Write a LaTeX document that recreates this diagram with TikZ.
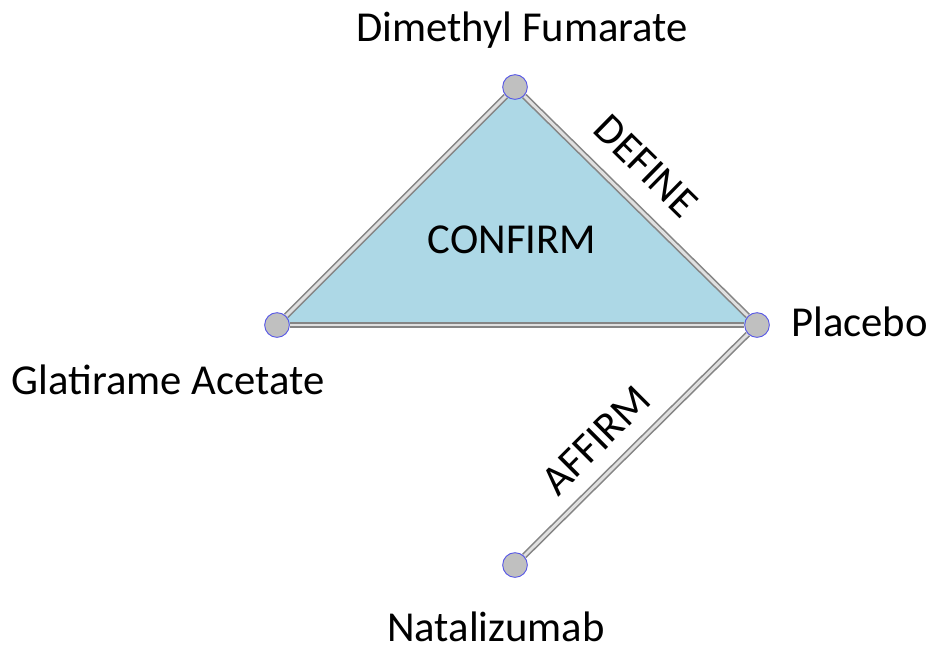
\documentclass[tikz,border=0pt]{standalone}
\usepackage{fontspec}
\setmainfont{Carlito}
\usepackage{xcolor}
\usepackage{tikz}
\usetikzlibrary{arrows.meta, positioning, backgrounds}

\definecolor{edgegray}{HTML}{858585}
\definecolor{edgelight}{HTML}{E0E0E0}
\definecolor{nodegray}{HTML}{C0C0C0}
\definecolor{nodeblue}{HTML}{5A5AE6}
\definecolor{loopblue}{HTML}{ADD8E6}

\tikzset{
	trt/.style = {circle, fill=nodegray, draw=nodeblue, line width=0.7pt,
		minimum size=18.5pt, inner sep=0pt},
	lbl/.style = {font=\fontsize{32}{38}\selectfont, inner sep=0pt},
	cmp/.style = {draw=edgegray, line width=1.2pt, double=edgelight,
		double distance=2.2pt}
}

\begin{document}
\begin{tikzpicture}[x=0.75pt, y=-0.75pt]
				\useasboundingbox (0, 0) rectangle (934, 654);

				\node[trt] (dmf) at (515, 87) {};
				\node[trt] (ga) at (277, 325) {};
				\node[trt] (pbo) at (757, 325) {};
				\node[trt] (ntz) at (515, 565) {};

				\node[lbl] (dmflbl) at (522, 30) {Dimethyl Fumarate};
				\node[lbl] (galbl) at (168, 380) {Glatirame Acetate};
				\node[lbl, anchor=west] (pbolbl) at (791, 322) {Placebo};
				\node[lbl] (ntzlbl) at (496, 627) {Natalizumab};

				\node[lbl] (confirm) at (512, 240) {CONFIRM};
				\node[lbl, rotate=-44.5] (define) at (646, 166) {DEFINE};
				\node[lbl, rotate=45] (affirm) at (596, 440) {AFFIRM};

				\begin{scope}[on background layer]
					\fill[loopblue] (dmf.center) -- (ga.center) -- (pbo.center) -- cycle;
					\draw[cmp] (dmf) -- (ga);
					\draw[cmp] (dmf) -- (pbo);
					\draw[cmp] (ga) -- (pbo);
					\draw[cmp] (pbo) -- (ntz);
				\end{scope}
			\end{tikzpicture}
\end{document}
